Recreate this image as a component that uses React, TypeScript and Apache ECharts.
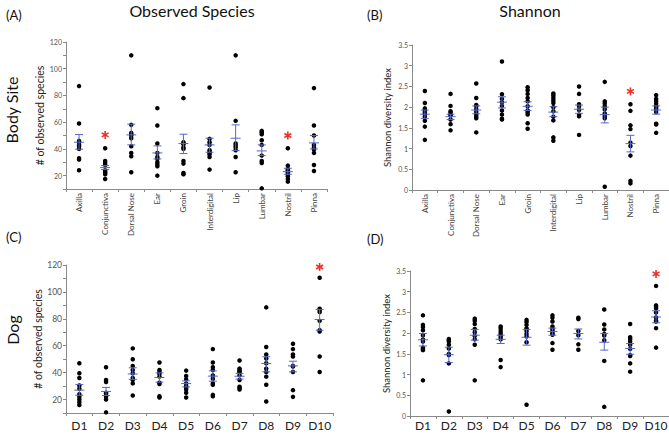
import React, { useEffect, useRef } from 'react';
import * as echarts from 'echarts';

const siteCats = ['Axilla', 'Conjunctiva', 'Dorsal Nose', 'Ear', 'Groin', 'Interdigital', 'Lip', 'Lumbar', 'Nostril', 'Pinna'];
const dogCats = ['D1', 'D2', 'D3', 'D4', 'D5', 'D6', 'D7', 'D8', 'D9', 'D10'];

// (A) Observed species by body site
const siteObsDots = [
  [87, 59, 46, 45, 43, 42, 40, 33, 32, 24],
  [40.5, 31, 29.5, 28, 24, 23, 22, 21, 17.5],
  [110, 58, 52, 51, 50, 48, 42, 37, 34.5, 22.5],
  [70.5, 57.5, 44, 37, 34, 32.5, 30, 28.5, 27, 20],
  [88.5, 78, 45, 43.5, 41, 40, 31, 29, 22, 21],
  [86, 47.5, 45, 43, 39, 37.5, 36, 34, 24.5],
  [110, 61, 44, 42.5, 41, 39, 34, 22.5],
  [53.5, 52.5, 51, 46.5, 43, 35, 31, 29.5, 10.5],
  [40.5, 27.5, 25, 24, 22.5, 21, 19.5, 17.5, 15.5],
  [85.5, 57.5, 50, 43, 41, 39.5, 37, 28, 23.5],
];
const siteObsMean = [45, 26, 50.5, 37, 44, 43, 48, 38.5, 23, 44.5];
const siteObsLo = [39.75, 24.5, 43, 32.5, 36.5, 37.5, 38.75, 35, 21, 40];
const siteObsHi = [50.75, 27.5, 58.5, 42.25, 51, 48, 58, 43, 25.5, 50];
const siteObsStars = [[1, 50.5], [8, 50]];

// (B) Shannon by body site
const siteShDots = [
  [2.39, 2.1, 1.97, 1.92, 1.87, 1.83, 1.77, 1.67, 1.53, 1.21],
  [2.32, 2.03, 1.9, 1.87, 1.82, 1.8, 1.7, 1.59, 1.44],
  [2.57, 2.22, 2.05, 2.02, 1.95, 1.88, 1.82, 1.77, 1.73, 1.39],
  [3.1, 2.31, 2.2, 2.12, 2.03, 1.92, 1.82, 1.72, 1.7],
  [2.48, 2.41, 2.32, 2.22, 2.14, 2.02, 1.92, 1.87, 1.82, 1.61, 1.48],
  [2.33, 2.28, 2.22, 2.16, 2.1, 2.0, 1.9, 1.77, 1.68, 1.27, 1.19],
  [2.5, 2.32, 2.07, 2.02, 1.93, 1.82, 1.78, 1.33],
  [2.61, 2.14, 2.09, 2.02, 1.95, 1.85, 1.78, 1.73, 0.08],
  [2.07, 1.91, 1.56, 1.47, 1.14, 1.06, 0.83, 0.22, 0.16],
  [2.29, 2.2, 2.15, 2.09, 2.03, 1.99, 1.95, 1.88, 1.6, 1.58, 1.38],
];
const siteShMean = [1.83, 1.77, 1.93, 2.12, 2.02, 1.88, 1.95, 1.82, 1.12, 1.93];
const siteShLo = [1.73, 1.7, 1.84, 1.98, 1.92, 1.77, 1.85, 1.62, 0.92, 1.83];
const siteShHi = [1.93, 1.83, 2.03, 2.25, 2.13, 2.01, 2.05, 2.0, 1.32, 2.03];
const siteShStars = [[8, 2.38]];

// (C) Observed species by dog
const dogObsDots = [
  [47, 39.5, 36, 30.5, 28, 24, 22, 20, 18, 16],
  [44, 34.5, 33, 25, 24.5, 23, 22, 20, 10.5],
  [58, 50, 45, 42, 39.5, 36, 34.5, 32, 23],
  [47.5, 42, 40.5, 39, 37, 32.5, 31.5, 22.5, 21.5],
  [41.5, 37.5, 35, 32, 30, 29, 27.5, 25, 21.5],
  [57.5, 47.5, 44, 42, 38, 35.5, 32, 31, 23.5, 22.5],
  [49, 43, 42, 41, 40, 38, 34.5, 29.5, 28.5, 27.5],
  [88.5, 59, 53.5, 50.5, 47, 43, 40.5, 37, 31, 18.5],
  [61.5, 57.5, 53.5, 52, 45, 44.5, 40.5, 27, 22],
  [110.5, 87.5, 86.5, 85, 78.5, 71.5, 70.5, 52, 40.5],
];
const dogObsMean = [27, 26, 39, 36.4, 31.9, 37.4, 37.3, 46.8, 45, 79.5];
const dogObsLo = [23.2, 23, 35, 32.9, 29.4, 33.6, 35.2, 40.6, 40.6, 71.5];
const dogObsHi = [31.2, 29, 43.6, 39.8, 33.9, 41.3, 39.5, 51.8, 48.5, 87];
const dogObsStars = [[9, 118.5]];

// (D) Shannon by dog
const dogShDots = [
  [2.43, 2.2, 2.15, 2.07, 1.95, 1.85, 1.8, 1.65, 1.62, 1.59, 0.86],
  [1.86, 1.83, 1.8, 1.72, 1.63, 1.5, 1.47, 1.27, 0.11],
  [2.35, 2.3, 2.22, 2.1, 2.02, 1.93, 1.85, 1.72, 0.86],
  [2.16, 2.12, 2.06, 2.0, 1.95, 1.9, 1.85, 1.35, 1.18],
  [2.32, 2.27, 2.2, 2.12, 2.05, 1.98, 1.92, 1.78, 0.27],
  [2.43, 2.37, 2.28, 2.16, 2.1, 2.05, 2.0, 1.96, 1.76, 1.6],
  [2.37, 2.34, 2.05, 1.95, 1.73, 1.6],
  [2.57, 2.21, 2.09, 1.98, 1.94, 1.83, 1.33, 0.22],
  [2.22, 1.9, 1.86, 1.8, 1.72, 1.62, 1.47, 1.45, 1.27, 1.07],
  [3.14, 2.67, 2.64, 2.6, 2.5, 2.38, 2.3, 2.28, 2.12, 1.65],
];
const dogShMean = [1.84, 1.48, 1.95, 1.85, 1.9, 2.04, 1.99, 1.78, 1.63, 2.39];
const dogShLo = [1.69, 1.29, 1.83, 1.75, 1.71, 1.95, 1.86, 1.59, 1.49, 2.25];
const dogShHi = [1.99, 1.66, 2.09, 1.95, 2.09, 2.12, 2.1, 1.99, 1.75, 2.54];
const dogShStars = [[9, 3.43]];

const FONT = 'Lato, "Open Sans", sans-serif';
const BLUE = '#5567c8';
const RED = '#e8312a';
const AXIS = '#8a8a8a';

const errRender = (params: any, api: any) => {
  const x = api.value(0);
  const m = api.coord([x, api.value(1)]);
  const lo = api.coord([x, api.value(2)]);
  const hi = api.coord([x, api.value(3)]);
  const style = { stroke: BLUE, lineWidth: 1 };
  const cw = 4;
  const mw = 5;
  return {
    type: 'group',
    children: [
      { type: 'line', shape: { x1: m[0], y1: hi[1], x2: m[0], y2: lo[1] }, style },
      { type: 'line', shape: { x1: m[0] - cw, y1: hi[1], x2: m[0] + cw, y2: hi[1] }, style },
      { type: 'line', shape: { x1: m[0] - cw, y1: lo[1], x2: m[0] + cw, y2: lo[1] }, style },
      { type: 'line', shape: { x1: m[0] - mw, y1: m[1], x2: m[0] + mw, y2: m[1] }, style },
    ],
  };
};

const starRender = (params: any, api: any) => {
  const p = api.coord([api.value(0), api.value(1)]);
  const r = 4;
  const style = { stroke: RED, lineWidth: 1.6 };
  const children = [0, 60, 120].map((deg) => {
    const a = (deg * Math.PI) / 180;
    const dx = Math.sin(a) * r;
    const dy = Math.cos(a) * r;
    return { type: 'line', shape: { x1: p[0] - dx, y1: p[1] - dy, x2: p[0] + dx, y2: p[1] + dy }, style };
  });
  return { type: 'group', children };
};

type PanelCfg = {
  grid: { left: number; top: number; width: number; height: number };
  cats: string[];
  dots: number[][];
  mean: number[];
  lo: number[];
  hi: number[];
  stars: number[][];
  yMin: number;
  yMax: number;
  yInterval: number;
  yLabelEvery: number;
  yLabelSize: number;
  yName: string;
  yNameSize: number;
  yNameGap: number;
  rotated: boolean;
  xMargin: number;
};

const panels: PanelCfg[] = [
  {
    grid: { left: 66, top: 42, width: 261, height: 147 },
    cats: siteCats, dots: siteObsDots, mean: siteObsMean, lo: siteObsLo, hi: siteObsHi, stars: siteObsStars,
    yMin: 10, yMax: 120, yInterval: 10, yLabelEvery: 20, yLabelSize: 7,
    yName: '# of observed species', yNameSize: 10.5, yNameGap: 19, rotated: true, xMargin: 4,
  },
  {
    grid: { left: 412, top: 45, width: 257, height: 145 },
    cats: siteCats, dots: siteShDots, mean: siteShMean, lo: siteShLo, hi: siteShHi, stars: siteShStars,
    yMin: 0, yMax: 3.5, yInterval: 0.5, yLabelEvery: 0, yLabelSize: 7,
    yName: 'Shannon diversity index', yNameSize: 9.5, yNameGap: 20, rotated: true, xMargin: 4,
  },
  {
    grid: { left: 66, top: 265, width: 267, height: 148 },
    cats: dogCats, dots: dogObsDots, mean: dogObsMean, lo: dogObsLo, hi: dogObsHi, stars: dogObsStars,
    yMin: 10, yMax: 120, yInterval: 10, yLabelEvery: 20, yLabelSize: 8.5,
    yName: '# of observed species', yNameSize: 10.5, yNameGap: 20, rotated: false, xMargin: 6,
  },
  {
    grid: { left: 410, top: 271, width: 259, height: 145 },
    cats: dogCats, dots: dogShDots, mean: dogShMean, lo: dogShLo, hi: dogShHi, stars: dogShStars,
    yMin: 0, yMax: 3.5, yInterval: 0.5, yLabelEvery: 0, yLabelSize: 7,
    yName: 'Shannon diversity index', yNameSize: 9.5, yNameGap: 19, rotated: false, xMargin: 3,
  },
];

function buildOption() {
  const grid: any[] = [];
  const xAxis: any[] = [];
  const yAxis: any[] = [];
  const series: any[] = [];
  panels.forEach((p, i) => {
    grid.push({ ...p.grid, containLabel: false, outerBoundsMode: 'none' });
    xAxis.push({
      type: 'category',
      gridIndex: i,
      data: p.cats,
      boundaryGap: true,
      axisLine: { show: true, lineStyle: { color: AXIS, width: 1 } },
      axisTick: { show: true, length: 3, lineStyle: { color: AXIS } },
      splitLine: { show: false },
      axisLabel: p.rotated
        ? { interval: 0, rotate: 90, fontSize: 8, color: '#444', margin: p.xMargin, fontFamily: FONT }
        : { interval: 0, fontSize: 12, color: '#222', margin: p.xMargin, fontFamily: FONT },
    });
    yAxis.push({
      type: 'value',
      gridIndex: i,
      min: p.yMin,
      max: p.yMax,
      interval: p.yInterval,
      axisLine: { show: true, lineStyle: { color: AXIS, width: 1 } },
      axisTick: { show: true, length: 3, lineStyle: { color: AXIS } },
      splitLine: { show: false },
      axisLabel: {
        fontSize: p.yLabelSize,
        color: '#555',
        margin: 4,
        fontFamily: FONT,
        showMinLabel: true,
        showMaxLabel: true,
        formatter: (v: number) => (p.yLabelEvery && Math.round(v) % p.yLabelEvery !== 0 ? '' : String(v)),
      },
      name: p.yName,
      nameLocation: 'middle',
      nameGap: p.yNameGap,
      nameTextStyle: { fontSize: p.yNameSize, color: '#222', fontFamily: FONT },
    });
    const dotData: number[][] = [];
    p.dots.forEach((arr, ci) => arr.forEach((v) => dotData.push([ci, v])));
    series.push({
      type: 'scatter',
      xAxisIndex: i,
      yAxisIndex: i,
      data: dotData,
      symbol: 'circle',
      symbolSize: 4.5,
      itemStyle: { color: '#000', opacity: 1 },
      z: 2,
    });
    series.push({
      type: 'custom',
      xAxisIndex: i,
      yAxisIndex: i,
      renderItem: errRender,
      data: p.mean.map((m, ci) => [ci, m, p.lo[ci], p.hi[ci]]),
      encode: { x: 0, y: 1 },
      z: 3,
    });
    series.push({
      type: 'custom',
      xAxisIndex: i,
      yAxisIndex: i,
      renderItem: starRender,
      data: p.stars,
      encode: { x: 0, y: 1 },
      z: 4,
    });
  });

  const txt = (text: string, x: number, y: number, size: number, opts: any = {}) => ({
    type: 'text',
    x,
    y,
    rotation: opts.rotation || 0,
    style: {
      text,
      fontSize: size,
      fontFamily: FONT,
      fill: '#111',
      textAlign: opts.align || 'left',
      textVerticalAlign: 'middle',
    },
  });

  const graphic = [
    txt('(A)', 6, 15, 13),
    txt('Observed Species', 192, 10, 16, { align: 'center' }),
    txt('(B)', 367, 15, 13),
    txt('Shannon', 530, 10, 16, { align: 'center' }),
    txt('Body Site', 11, 110, 16, { align: 'center', rotation: Math.PI / 2 }),
    txt('(C)', 6, 237, 13),
    txt('(D)', 367, 239, 13),
    txt('Dog', 12, 330, 16, { align: 'center', rotation: Math.PI / 2 }),
  ];

  return {
    animation: false,
    backgroundColor: '#fff',
    grid,
    xAxis,
    yAxis,
    series,
    graphic,
  };
}

export default function App() {
  const ref = useRef<HTMLDivElement>(null);
  useEffect(() => {
    if (!ref.current) return;
    const chart = echarts.init(ref.current, undefined, { renderer: 'svg' });
    chart.setOption(buildOption() as any);
    return () => chart.dispose();
  }, []);
  return (
    <div
      ref={ref}
      style={{ position: 'absolute', left: 0, top: 0, width: 669, height: 434, background: '#fff' }}
    />
  );
}
